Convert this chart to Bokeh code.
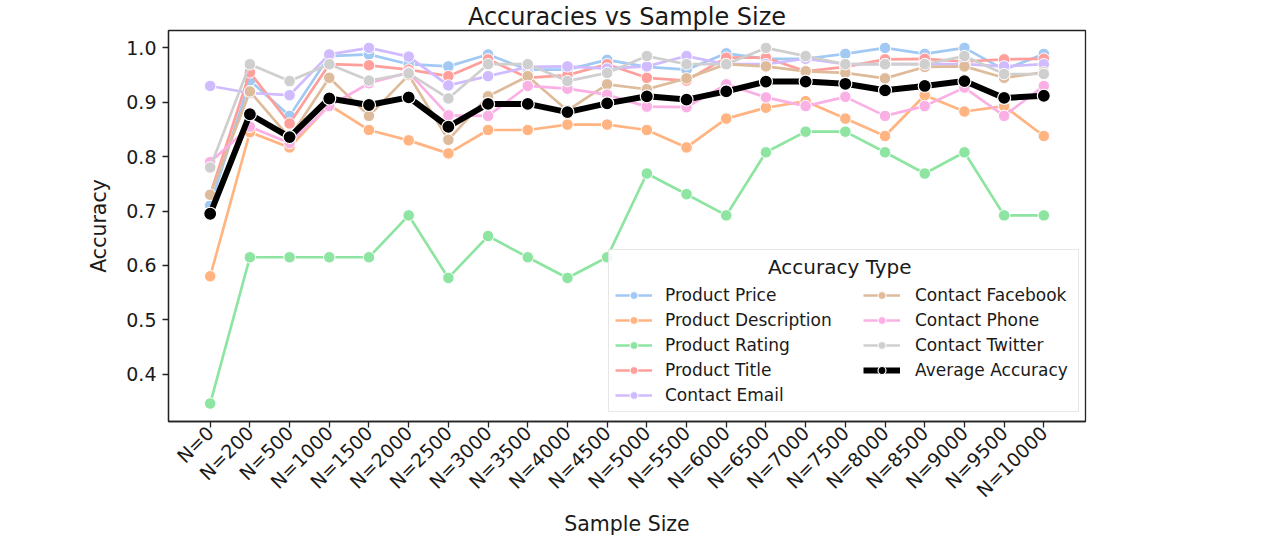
import math
from bokeh.plotting import figure
from bokeh.models import (ColumnDataSource, FactorRange, FixedTicker, Legend, LegendItem,
                          Range1d)
from bokeh.embed import file_html
from bokeh.resources import INLINE

sample_sizes = ["N=0", "N=200", "N=500", "N=1000", "N=1500", "N=2000", "N=2500",
                "N=3000", "N=3500", "N=4000", "N=4500", "N=5000", "N=5500", "N=6000",
                "N=6500", "N=7000", "N=7500", "N=8000", "N=8500", "N=9000", "N=9500",
                "N=10000"]

product_price = [0.71, 0.94, 0.875, 0.985, 0.988, 0.97, 0.966, 0.988, 0.96, 0.96, 0.978,
                 0.965, 0.96, 0.99, 0.98, 0.98, 0.989, 1.0, 0.989, 1.0, 0.96, 0.989]
product_description = [0.58, 0.845, 0.817, 0.895, 0.849, 0.83, 0.806, 0.849, 0.849, 0.859, 0.859,
                       0.849, 0.817, 0.87, 0.89, 0.902, 0.87, 0.838, 0.913, 0.883, 0.893, 0.838]
product_rating = [0.346, 0.615, 0.615, 0.615, 0.615, 0.692, 0.577, 0.654, 0.615, 0.577, 0.615,
                  0.769, 0.731, 0.692, 0.808, 0.846, 0.846, 0.808, 0.769, 0.808, 0.692, 0.692]
product_title = [0.73, 0.955, 0.861, 0.97, 0.968, 0.96, 0.948, 0.979, 0.945, 0.95, 0.97,
                 0.945, 0.94, 0.982, 0.982, 0.957, 0.965, 0.979, 0.98, 0.975, 0.979, 0.98]
contact_email = [0.93, 0.917, 0.913, 0.988, 1.0, 0.984, 0.931, 0.948, 0.965, 0.966, 0.962,
                 0.966, 0.985, 0.97, 0.97, 0.98, 0.97, 0.97, 0.97, 0.97, 0.966, 0.97]
contact_facebook = [0.73, 0.92, 0.835, 0.945, 0.875, 0.95, 0.831, 0.911, 0.948, 0.885, 0.933,
                    0.924, 0.944, 0.97, 0.966, 0.957, 0.954, 0.944, 0.965, 0.966, 0.945, 0.955]
contact_phone = [0.79, 0.855, 0.825, 0.893, 0.935, 0.955, 0.876, 0.875, 0.93, 0.925, 0.914,
                 0.892, 0.891, 0.933, 0.909, 0.893, 0.91, 0.875, 0.893, 0.927, 0.875, 0.93]
contact_twitter = [0.78, 0.97, 0.939, 0.97, 0.94, 0.953, 0.907, 0.97, 0.97, 0.939, 0.954,
                   0.985, 0.97, 0.97, 1.0, 0.985, 0.97, 0.97, 0.97, 0.985, 0.952, 0.952]
average_accuracy = [0.695, 0.878, 0.836, 0.907, 0.895, 0.909, 0.855, 0.897, 0.897, 0.882, 0.898,
                    0.911, 0.905, 0.920, 0.938, 0.938, 0.934, 0.922, 0.930, 0.939, 0.908, 0.912]

series_names = ["Product Price", "Product Description", "Product Rating", "Product Title",
                "Contact Email", "Contact Facebook", "Contact Phone", "Contact Twitter"]
series_values = [product_price, product_description, product_rating, product_title,
                 contact_email, contact_facebook, contact_phone, contact_twitter]
series_colors = ["#a1c9f4", "#ffb482", "#8de5a1", "#ff9f9b",
                 "#d0bbff", "#debb9b", "#fab0e4", "#cfcfcf"]
y_ticks = [0.4, 0.5, 0.6, 0.7, 0.8, 0.9, 1.0]

FONT = "DejaVu Sans"
TXT = "#1a1a1a"

p = figure(
    x_range=FactorRange(*sample_sizes, range_padding=0.05, range_padding_units="percent"),
    y_range=Range1d(0.313, 1.032),
    width=1280, height=544,
    output_backend="svg", toolbar_location=None,
    min_border_left=168, min_border_right=195, min_border_bottom=123, min_border_top=0,
    title="Accuracies vs Sample Size",
)
p.title.align = "center"
p.title.text_font = FONT
p.title.text_font_size = "24px"
p.title.text_font_style = "normal"
p.title.text_color = TXT
p.title.standoff = 0

p.xgrid.visible = False
p.ygrid.visible = False
p.outline_line_color = "#222222"
p.outline_line_width = 1.3
p.background_fill_color = "white"
p.border_fill_color = "white"

for ax in (p.xaxis[0], p.yaxis[0]):
    ax.axis_line_color = "#222222"
    ax.axis_line_width = 1.3
    ax.major_tick_line_color = "#222222"
    ax.major_tick_line_width = 1.3
    ax.major_tick_in = 0
    ax.major_tick_out = 6
    ax.minor_tick_line_color = None
    ax.major_label_text_font = FONT
    ax.major_label_text_font_size = "19px"
    ax.major_label_text_color = TXT
    ax.axis_label_text_font = FONT
    ax.axis_label_text_font_size = "20.5px"
    ax.axis_label_text_font_style = "normal"
    ax.axis_label_text_color = TXT

p.xaxis.axis_label = "Sample Size"
p.xaxis.major_label_orientation = math.pi / 4
p.xaxis.major_label_standoff = 2
p.xaxis.axis_label_standoff = 0
p.yaxis.axis_label = "Accuracy"
p.yaxis.ticker = FixedTicker(ticks=y_ticks)
p.yaxis.major_label_overrides = {t: f"{t:.1f}" for t in y_ticks}
p.yaxis.major_label_standoff = 6
p.yaxis.axis_label_standoff = 12

items = []
for name, vals, col in zip(series_names, series_values, series_colors):
    src = ColumnDataSource(data=dict(x=sample_sizes, y=vals))
    ln = p.line("x", "y", source=src, line_color=col, line_width=2.7)
    sc = p.scatter("x", "y", source=src, size=11.5, fill_color=col, line_color="white", line_width=1)
    items.append(LegendItem(label=name, renderers=[ln, sc]))

src_avg = ColumnDataSource(data=dict(x=sample_sizes, y=average_accuracy))
ln_avg = p.line("x", "y", source=src_avg, line_color="black", line_width=6)
sc_avg = p.scatter("x", "y", source=src_avg, size=13, fill_color="black", line_color="white", line_width=1.2)
items.append(LegendItem(label="Average Accuracy", renderers=[ln_avg, sc_avg]))


def style_legend(lg):
    lg.label_text_font = FONT
    lg.label_text_font_size = "17px"
    lg.label_text_color = TXT
    lg.glyph_width = 37
    lg.glyph_height = 20
    lg.label_height = 20
    lg.spacing = 5
    lg.margin = 0


# first column: the framed box (its blank title reserves the room for the centred heading)
legend_a = Legend(items=items[:5], location=(440, 9))
style_legend(legend_a)
legend_a.title = " "
legend_a.title_text_font = FONT
legend_a.title_text_font_size = "20px"
legend_a.title_standoff = 5
legend_a.padding = 6
legend_a.label_standoff = 13
legend_a.label_width = 407
legend_a.border_line_color = "#d0d0d0"
legend_a.border_line_width = 1.3
legend_a.background_fill_color = "white"
legend_a.background_fill_alpha = 0.85
p.add_layout(legend_a)

# second column, drawn inside the same box
legend_b = Legend(items=items[5:], location=(695, 41))
style_legend(legend_b)
legend_b.padding = 0
legend_b.label_standoff = 15
legend_b.border_line_color = None
legend_b.background_fill_color = None
legend_b.background_fill_alpha = 0
p.add_layout(legend_b)

# centred heading of the legend box
heading_r = p.scatter(x=[], y=[], size=0, fill_alpha=0, line_alpha=0)
legend_c = Legend(items=[LegendItem(label="Accuracy Type", renderers=[heading_r])],
                  location=(600, 142))
legend_c.label_text_font = FONT
legend_c.label_text_font_size = "20px"
legend_c.label_text_color = TXT
legend_c.glyph_width = 0
legend_c.glyph_height = 20
legend_c.label_height = 20
legend_c.label_standoff = 0
legend_c.padding = 0
legend_c.margin = 0
legend_c.border_line_color = None
legend_c.background_fill_color = None
legend_c.background_fill_alpha = 0
p.add_layout(legend_c)

open("out.html", "w").write(file_html(p, INLINE))
